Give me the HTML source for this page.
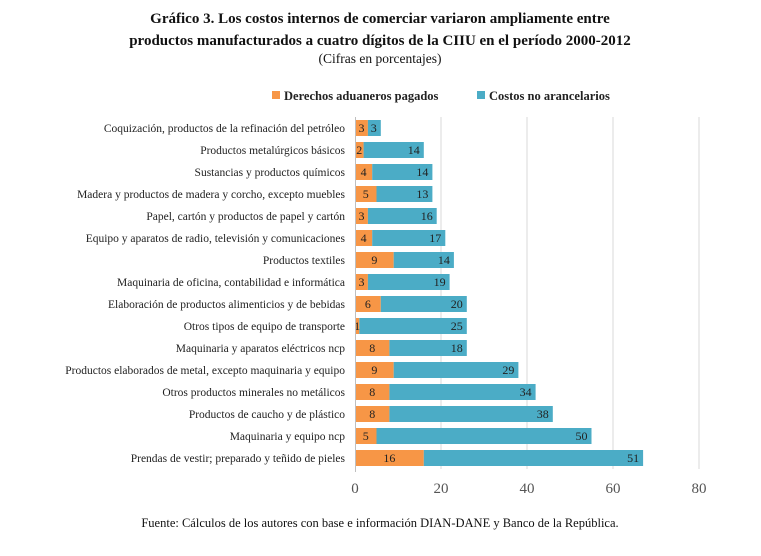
<!DOCTYPE html>
<html><head><meta charset="utf-8"><style>
body{margin:0;background:#fff;}
svg{display:block;font-family:"Liberation Serif",serif;}
</style></head><body>
<svg width="761" height="556" viewBox="0 0 761 556">
<text x="380" y="23" text-anchor="middle" font-size="15" font-weight="bold" fill="#111">Gráfico 3. Los costos internos de comerciar variaron ampliamente entre</text>
<text x="380" y="45" text-anchor="middle" font-size="15" font-weight="bold" fill="#111">productos manufacturados a cuatro dígitos de la CIIU en el período 2000-2012</text>
<text x="380" y="63" text-anchor="middle" font-size="13.5" fill="#111">(Cifras en porcentajes)</text>
<rect x="272" y="91" width="8" height="8" fill="#F79646"/>
<text x="284" y="100" font-size="12.5" font-weight="bold" fill="#222">Derechos aduaneros pagados</text>
<rect x="477" y="91" width="8" height="8" fill="#4BACC6"/>
<text x="489" y="100" font-size="12.5" font-weight="bold" fill="#222">Costos no arancelarios</text>
<g stroke="#d9d9d9" stroke-width="1">
<line x1="441" y1="117" x2="441" y2="469"/><line x1="527" y1="117" x2="527" y2="469"/>
<line x1="613" y1="117" x2="613" y2="469"/><line x1="699" y1="117" x2="699" y2="469"/>
</g>
<g id="bars" font-size="12"></g>
<line x1="355.5" y1="117" x2="355.5" y2="472" stroke="#bfbfbf"/>
<g font-size="15" fill="#555" text-anchor="middle">
<text x="355" y="493">0</text><text x="441" y="493">20</text><text x="527" y="493">40</text><text x="613" y="493">60</text><text x="699" y="493">80</text>
</g>
<text x="380" y="527" text-anchor="middle" font-size="12.5" fill="#111">Fuente: Cálculos de los autores con base e información DIAN-DANE y Banco de la República.</text>
</svg>
<script>
var d=[["Coquización, productos de la refinación del petróleo",3,3],
["Productos metalúrgicos básicos",2,14],
["Sustancias y productos químicos",4,14],
["Madera y productos de madera y corcho, excepto muebles",5,13],
["Papel, cartón y productos de papel y cartón",3,16],
["Equipo y aparatos de radio, televisión y comunicaciones",4,17],
["Productos textiles",9,14],
["Maquinaria de oficina, contabilidad e informática",3,19],
["Elaboración de productos alimenticios y de bebidas",6,20],
["Otros tipos de equipo de transporte",1,25],
["Maquinaria y aparatos eléctricos ncp",8,18],
["Productos elaborados de metal, excepto maquinaria y equipo",9,29],
["Otros productos minerales no metálicos",8,34],
["Productos de caucho y de plástico",8,38],
["Maquinaria y equipo ncp",5,50],
["Prendas de vestir; preparado y teñido de pieles",16,51]];
var g=document.getElementById("bars"),s=4.3,o=355,h="";
d.forEach(function(r,i){var cy=128+i*22,a=r[1]*s,b=r[2]*s;
h+='<text x="345" y="'+(cy+4)+'" text-anchor="end" fill="#222" font-size="11.5">'+r[0]+'</text>';
h+='<rect x="'+o+'" y="'+(cy-8)+'" width="'+a+'" height="16" fill="#F79646"/>';
h+='<rect x="'+(o+a)+'" y="'+(cy-8)+'" width="'+b+'" height="16" fill="#4BACC6"/>';
h+='<text x="'+(o+a/2)+'" y="'+(cy+4)+'" text-anchor="middle" fill="#222">'+r[1]+'</text>';
h+='<text x="'+(o+a+b-4)+'" y="'+(cy+4)+'" text-anchor="end" fill="#222">'+r[2]+'</text>';});
g.innerHTML=h;
</script>
</body></html>
